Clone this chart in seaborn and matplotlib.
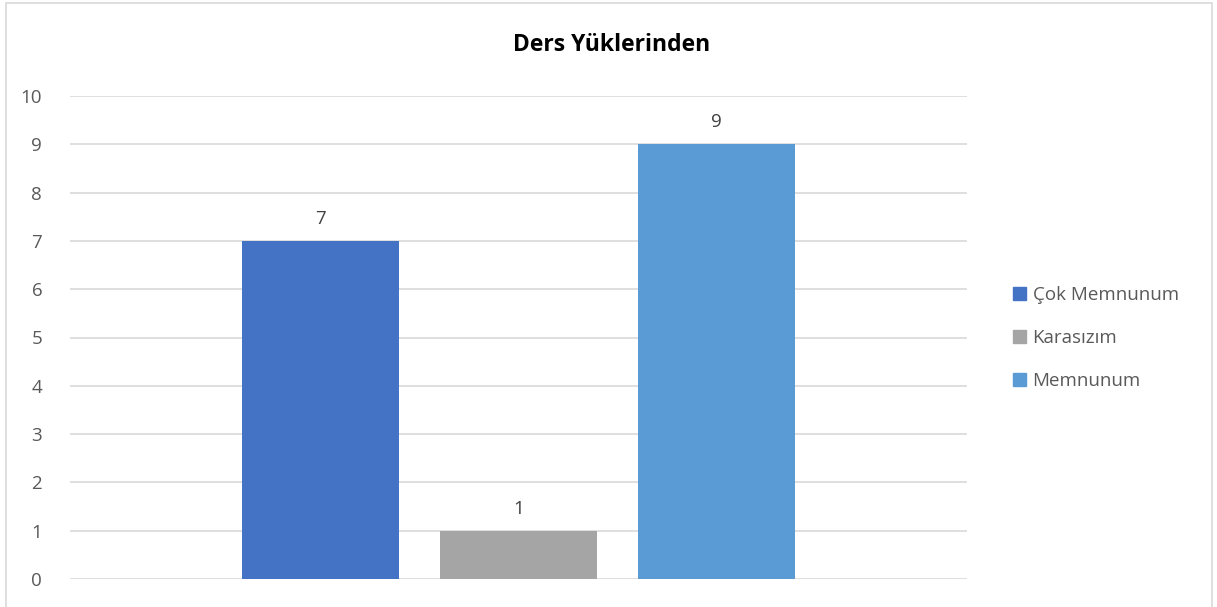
import matplotlib.pyplot as plt
import matplotlib.patches as mpatches
import pandas as pd
import seaborn as sns

title = "Ders Yüklerinden"
categories = ["Çok Memnunum", "Karasızım", "Memnunum"]
values = [7, 1, 9]
colors = ["#4472C4", "#A5A5A5", "#5B9BD5"]
yticks = list(range(0, 11))

sns.set_theme(style="white")
plt.rcParams["font.family"] = ["Open Sans", "DejaVu Sans"]

df = pd.DataFrame({"answer": categories, "count": values})

fig = plt.figure(figsize=(12.17, 6.07), dpi=100)
ax = fig.add_axes([70 / 1217, 28 / 607, 897 / 1217, 483 / 607])

sns.barplot(data=df, x="answer", y="count", hue="answer", palette=colors,
            width=0.79, dodge=False, legend=False, ax=ax, saturation=1,
            linewidth=0)

for i, v in enumerate(values):
    ax.text(i, v + 0.27, str(v), ha="center", va="bottom",
            fontsize=13.5, color="#404040")

ax.set_xlim(-1.265, 3.265)
ax.set_ylim(0, 10)
ax.set_yticks(yticks)
ax.set_yticklabels([str(t) for t in yticks], fontsize=13.5, color="#595959")
ax.set_xticks([])
ax.set_xlabel("")
ax.set_ylabel("")
ax.tick_params(axis="y", length=0, pad=20)
ax.grid(axis="y", color="#D9D9D9", lw=1.2)
ax.set_axisbelow(True)
for s in ax.spines.values():
    s.set_visible(False)

fig.text(612 / 1217, 1 - 45 / 607, title, ha="center", va="center",
         fontsize=16.5, fontweight="bold", color="#000000")

handles = [mpatches.Patch(color=c, label=l) for c, l in zip(colors, categories)]
leg = fig.legend(handles=handles, loc="center left",
                 bbox_to_anchor=(996 / 1217, 1 - 338 / 607), frameon=False,
                 fontsize=13.5, handlelength=0.7, handleheight=0.7,
                 handletextpad=0.35, labelspacing=1.35, labelcolor="#595959")

fig.patches.append(mpatches.Rectangle((6 / 1217, -0.01), 1206 / 1217, 1.0 - 3 / 607 + 0.01,
                                      transform=fig.transFigure, fill=False,
                                      edgecolor="#D9D9D9", lw=1.2))

fig.savefig("out.png", dpi=100)
